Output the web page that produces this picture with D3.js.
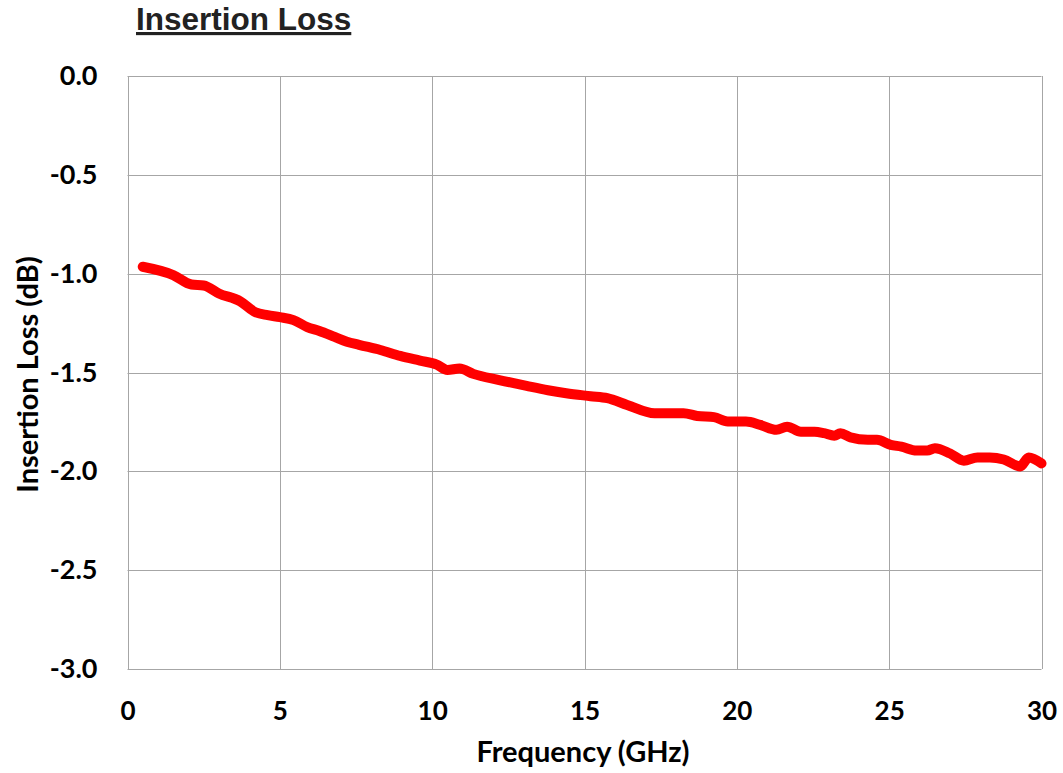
<!DOCTYPE html>
<html>
<head>
<meta charset="utf-8">
<script src="https://cdn.jsdelivr.net/npm/d3@7"></script>
<style>
  html, body { margin: 0; padding: 0; background: #fff; }
  svg { display: block; }
</style>
</head>
<body>
<svg id="chart" width="1063" height="773"></svg>
<script>
const freqGHz = [0.5, 1.5, 2.1, 2.5, 3.0, 3.7, 4.2, 4.6, 5.0, 5.45, 5.9, 6.3, 6.8, 7.2, 7.6, 8.3, 8.95, 9.6, 10.15, 10.5, 10.9, 11.35, 12.2, 13.1, 13.8, 14.4, 15.2, 15.75, 16.4, 17.3, 18.25, 18.7, 19.25, 19.7, 20.3, 20.77, 21.3, 21.65, 22.1, 22.55, 22.86, 23.2, 23.4, 23.73, 24.3, 24.6, 25.05, 25.4, 25.9, 26.25, 26.5, 27.0, 27.45, 27.9, 28.3, 28.76, 29.3, 29.58, 30.0];
const lossDb = [-0.965, -1.007, -1.055, -1.06, -1.10, -1.14, -1.195, -1.21, -1.22, -1.235, -1.27, -1.29, -1.32, -1.344, -1.36, -1.386, -1.416, -1.44, -1.46, -1.487, -1.48, -1.507, -1.538, -1.568, -1.59, -1.605, -1.62, -1.63, -1.664, -1.706, -1.706, -1.72, -1.726, -1.748, -1.748, -1.765, -1.79, -1.774, -1.80, -1.80, -1.807, -1.82, -1.807, -1.828, -1.84, -1.84, -1.866, -1.875, -1.895, -1.895, -1.883, -1.91, -1.946, -1.93, -1.93, -1.94, -1.975, -1.93, -1.96];
const xTicks = [0, 5, 10, 15, 20, 25, 30];
const yTicks = [0, -0.5, -1.0, -1.5, -2.0, -2.5, -3.0];
const chartTitle = "Insertion Loss";
const xTitle = "Frequency (GHz)";
const yTitle = "Insertion Loss (dB)";

const svg = d3.select("#chart");
const m = { left: 127.5, right: 1041.5, top: 76, bottom: 669 };
const x = d3.scaleLinear().domain([0, 30]).range([m.left, m.right]);
const y = d3.scaleLinear().domain([0, -3]).range([m.top, m.bottom]);
const gridColor = "#a6a6a6";
const tickFont = "Lato, 'Open Sans', sans-serif";

// grid
svg.append("g").selectAll("line.v").data(xTicks).join("line")
  .attr("x1", d => Math.round(x(d)) + 0.5).attr("x2", d => Math.round(x(d)) + 0.5)
  .attr("y1", m.top).attr("y2", m.bottom)
  .attr("stroke", gridColor).attr("stroke-width", 1);
svg.append("g").selectAll("line.h").data(yTicks).join("line")
  .attr("y1", d => Math.round(y(d)) + 0.5).attr("y2", d => Math.round(y(d)) + 0.5)
  .attr("x1", m.left).attr("x2", m.right)
  .attr("stroke", gridColor).attr("stroke-width", 1);

const fmtY = d => d.toFixed(1);

const xAxis = svg.append("g").attr("transform", `translate(0,${m.bottom})`)
  .call(d3.axisBottom(x).tickValues(xTicks).tickSize(0).tickPadding(33).tickFormat(d => String(d)));
xAxis.select(".domain").remove();
xAxis.selectAll("text").attr("font-family", tickFont).attr("font-weight", 700)
  .attr("font-size", 26).attr("fill", "#000");

const yAxis = svg.append("g").attr("transform", `translate(${m.left},0)`)
  .call(d3.axisLeft(y).tickValues(yTicks).tickSize(0).tickPadding(30).tickFormat(fmtY));
yAxis.select(".domain").remove();
yAxis.selectAll("text").attr("font-family", tickFont).attr("font-weight", 700)
  .attr("font-size", 27).attr("fill", "#000");

// line
const line = d3.line().x((d, i) => x(freqGHz[i])).y(d => y(d)).curve(d3.curveMonotoneX);
svg.append("path").datum(lossDb)
  .attr("d", line)
  .attr("fill", "none").attr("stroke", "#ff0000").attr("stroke-width", 10)
  .attr("stroke-linecap", "round").attr("stroke-linejoin", "round");

// title
svg.append("text").attr("x", 136).attr("y", 30)
  .attr("font-family", "Liberation Sans, Arial, sans-serif").attr("font-weight", 700)
  .attr("font-size", 31.5).attr("fill", "#222").attr("text-decoration", "underline")
  .text(chartTitle);

svg.append("text").attr("x", 583).attr("y", 762)
  .attr("text-anchor", "middle").attr("font-family", tickFont).attr("font-weight", 700)
  .attr("font-size", 29).attr("fill", "#000").text(xTitle);

svg.append("text").attr("transform", `translate(38,${(m.top + m.bottom) / 2 + 2}) rotate(-90)`)
  .attr("text-anchor", "middle").attr("font-family", tickFont).attr("font-weight", 700)
  .attr("font-size", 29).attr("fill", "#000").text(yTitle);
</script>
</body>
</html>
